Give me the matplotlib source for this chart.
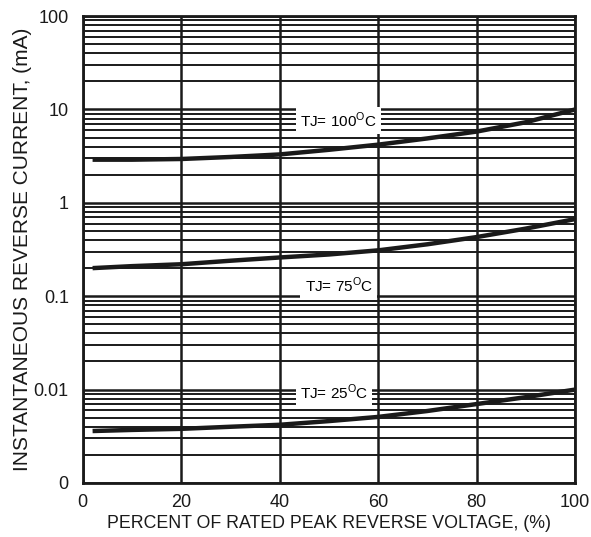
import matplotlib
matplotlib.use("Agg")
import matplotlib.pyplot as plt
from matplotlib.ticker import LogLocator, NullFormatter

plt.rcParams['font.family'] = ['Liberation Sans', 'DejaVu Sans']

x = [2, 10, 20, 30, 40, 50, 60, 70, 80, 90, 100]
i_100 = [2.9, 2.9, 2.95, 3.1, 3.3, 3.7, 4.2, 4.9, 5.8, 7.3, 10.0]
i_75 = [0.2, 0.21, 0.22, 0.24, 0.26, 0.28, 0.31, 0.36, 0.43, 0.53, 0.67]
i_25 = [0.0036, 0.0037, 0.0038, 0.004, 0.0042, 0.0046, 0.0051, 0.0059, 0.007, 0.0083, 0.010]

labels = ["TJ= 100$^\\mathregular{O}$C", "TJ= 75$^\\mathregular{O}$C", "TJ= 25$^\\mathregular{O}$C"]
label_x = [52, 52, 51]
label_y = [7.6, 0.13, 0.0093]

xticks = [0, 20, 40, 60, 80, 100]
yticks = [0.001, 0.01, 0.1, 1, 10, 100]
yticklabels = ["0", "0.01", "0.1", "1", "10", "100"]

fig = plt.figure(figsize=(5.91, 5.37), dpi=100)
ax = fig.add_axes([0.140, 0.1006, 0.833, 0.8694])
ax.set_yscale('log')
ax.set_xlim(0, 100)
ax.set_ylim(0.001, 100)

ax.set_xticks(xticks)
ax.set_xticklabels([str(t) for t in xticks])
ax.set_yticks(yticks)
ax.set_yticklabels(yticklabels)
ax.yaxis.set_minor_locator(LogLocator(base=10, subs=range(2, 10)))
ax.yaxis.set_minor_formatter(NullFormatter())

ax.grid(True, which='major', axis='both', color='#1a1a1a', linewidth=1.8, zorder=1)
ax.grid(True, which='minor', axis='y', color='#1a1a1a', linewidth=1.4, zorder=1)
ax.set_axisbelow(True)

for yv in [i_100, i_75, i_25]:
    ax.plot(x, yv, color='#1a1a1a', linewidth=3.2, solid_capstyle='butt', zorder=3)

for lx, ly, lt in zip(label_x, label_y, labels):
    ax.text(lx, ly, lt, ha='center', va='center', fontsize=11, zorder=4,
            bbox=dict(facecolor='white', edgecolor='none', pad=3))

ax.tick_params(which='both', length=0, labelsize=13, colors='#1a1a1a')
ax.tick_params(axis='x', pad=8)
ax.tick_params(axis='y', pad=10)
for s in ax.spines.values():
    s.set_linewidth(2)
    s.set_color('#1a1a1a')

ax.set_xlabel("PERCENT OF RATED PEAK REVERSE VOLTAGE, (%)", fontsize=12.8, labelpad=3, color='#1a1a1a')
ax.set_ylabel("INSTANTANEOUS REVERSE CURRENT, (mA)", fontsize=15, labelpad=1, color='#1a1a1a')

fig.savefig("out.png", dpi=100)
